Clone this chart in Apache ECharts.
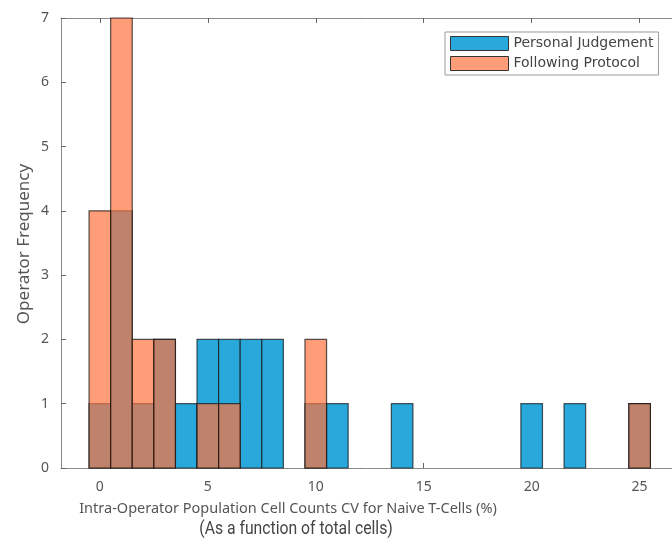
<!DOCTYPE html>
<html>
<head>
<meta charset="utf-8">
<script src="https://cdn.jsdelivr.net/npm/echarts@6/dist/echarts.min.js"></script>
<style>
  html, body { margin: 0; padding: 0; background: #fff; }
  #chart { width: 672px; height: 544px; }
</style>
</head>
<body>
<div id="chart"></div>
<script>
// Histogram bins (bin centres, width 1) and operator counts per group
const judgementBins   = [0, 1, 2, 3, 4, 5, 6, 7, 8, 10, 11, 14, 20, 22, 25];
const judgementCounts = [1, 4, 1, 2, 1, 2, 2, 2, 2, 1, 1, 1, 1, 1, 1];
const protocolBins    = [0, 1, 2, 3, 5, 6, 10, 25];
const protocolCounts  = [4, 7, 2, 2, 1, 1, 2, 1];

const xTicks = [0, 5, 10, 15, 20, 25];

const seriesNames = ['Personal Judgement', 'Following Protocol'];
const xTitle = 'Intra-Operator Population Cell Counts CV for Naive T-Cells (%)';
const xSubtitle = '(As a function of total cells)';
const yTitle = 'Operator Frequency';

const BIN_WIDTH = 1;
const blueFill = '#29a9db';
const orangeFill = 'rgba(255,116,62,0.7)';
const edge = 'rgba(20,20,20,0.72)';

// One rectangle per bin, spanning [centre - w/2, centre + w/2] on the x scale
function makeBars(fill) {
  return function (params, api) {
    const c = api.value(0), n = api.value(1);
    const p0 = api.coord([c - BIN_WIDTH / 2, 0]);
    const p1 = api.coord([c + BIN_WIDTH / 2, n]);
    return {
      type: 'rect',
      shape: { x: p0[0], y: p1[1], width: p1[0] - p0[0], height: p0[1] - p1[1] },
      style: { fill: fill, stroke: edge, lineWidth: 1.2 }
    };
  };
}

const chart = echarts.init(document.getElementById('chart'), null, { renderer: 'canvas' });

const axisLineStyle = { color: '#8a8a8a', width: 1 };
const labelFont = { fontFamily: 'Noto Sans', fontSize: 14, color: '#555' };

chart.setOption({
  animation: false,
  backgroundColor: '#fff',
  grid: { left: 61, right: -2, top: 18, bottom: 76, containLabel: false },
  legend: {
    orient: 'vertical',
    left: 445,
    top: 32,
    padding: [4, 5, 4, 5],
    itemGap: 5,
    itemWidth: 58,
    itemHeight: 14,
    icon: 'rect',
    borderColor: '#9a9a9a',
    borderWidth: 1,
    backgroundColor: '#fff',
    itemStyle: { borderColor: '#333', borderWidth: 1 },
    textStyle: { fontFamily: 'DejaVu Sans', fontSize: 14, color: '#444' },
    data: seriesNames
  },
  xAxis: [
    {
      type: 'value',
      min: -1.8,
      max: 26.5,
      position: 'bottom',
      axisLine: { show: true, onZero: false, lineStyle: axisLineStyle },
      axisTick: { show: true, inside: true, length: 5, customValues: xTicks, lineStyle: { color: '#666' } },
      axisLabel: { show: true, customValues: xTicks, margin: 12, ...labelFont },
      splitLine: { show: false }
    },
    {
      type: 'value',
      min: -1.8,
      max: 26.5,
      position: 'top',
      axisLine: { show: true, onZero: false, lineStyle: axisLineStyle },
      axisTick: { show: true, inside: true, length: 5, customValues: xTicks, lineStyle: { color: '#666' } },
      axisLabel: { show: false },
      splitLine: { show: false }
    }
  ],
  yAxis: {
    type: 'value',
    min: 0,
    max: 7,
    interval: 1,
    axisLine: { show: true, onZero: false, lineStyle: axisLineStyle },
    axisTick: { show: true, inside: true, length: 5, lineStyle: { color: '#666' } },
    axisLabel: { show: true, margin: 12, ...labelFont },
    splitLine: { show: false }
  },
  series: [
    {
      name: seriesNames[0],
      type: 'custom',
      xAxisIndex: 0,
      itemStyle: { color: blueFill },
      renderItem: makeBars(blueFill),
      data: judgementBins.map((b, i) => [b, judgementCounts[i]]),
      z: 2
    },
    {
      name: seriesNames[1],
      type: 'custom',
      xAxisIndex: 0,
      itemStyle: { color: orangeFill },
      renderItem: makeBars(orangeFill),
      data: protocolBins.map((b, i) => [b, protocolCounts[i]]),
      z: 3
    }
  ],
  graphic: [
    {
      type: 'text',
      x: 288,
      y: 509,
      style: {
        text: xTitle, fontFamily: 'Noto Sans', fontSize: 14.5, fill: '#555',
        align: 'center', verticalAlign: 'middle'
      }
    },
    {
      type: 'text',
      x: 296,
      y: 530,
      scaleX: 0.9,
      style: {
        text: xSubtitle, fontFamily: 'Roboto', fontSize: 17.5, fill: '#444',
        align: 'center', verticalAlign: 'middle'
      }
    },
    {
      type: 'text',
      x: 24,
      y: 244,
      rotation: Math.PI / 2,
      style: {
        text: yTitle, fontFamily: 'Noto Sans', fontSize: 17, fill: '#555',
        align: 'center', verticalAlign: 'middle'
      }
    }
  ]
});
</script>
</body>
</html>
